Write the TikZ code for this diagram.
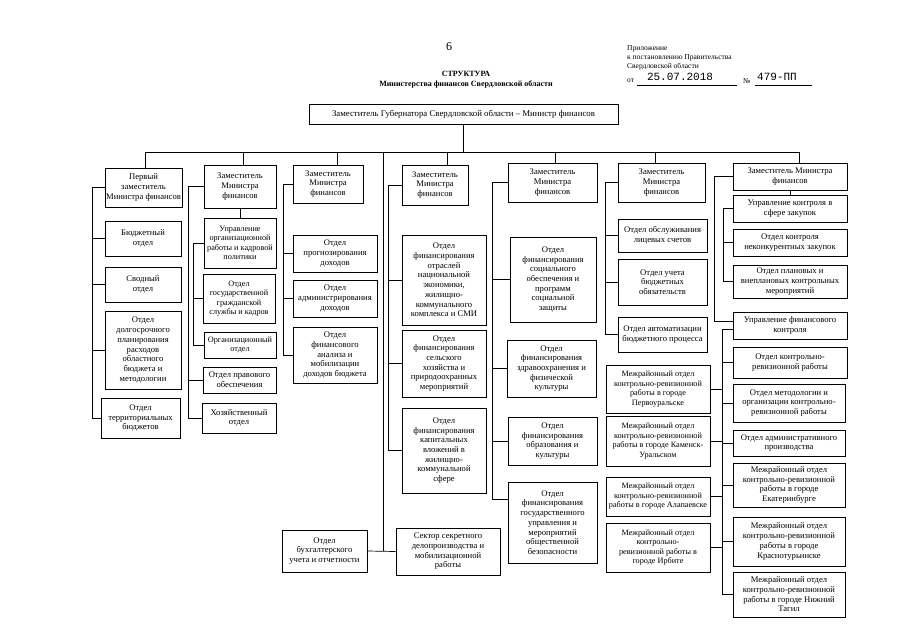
\documentclass[tikz,border=0pt]{standalone}
\usepackage{fontspec}
\setmainfont{Liberation Serif}
\newfontfamily\monofnt{Liberation Mono}
\tikzset{
  bx/.style={draw,line width=0.9pt,inner sep=0pt,align=center,font=\fontsize{8.6}{9.7}\selectfont},
  sm/.style={font=\fontsize{8.2}{9.5}\selectfont},
  ln/.style={line width=0.7pt},
  hdr/.style={inner sep=0pt,font=\fontsize{7.5}{9}\selectfont,anchor=west},
}
\newcommand\bx[7][]{\node[bx,#1,minimum width={(#5-#3)*1pt},minimum height={(#6-#4)*1pt}] (#2) at ({(#3+#5)/2},{(#4+#6)/2}) {#7};}
\begin{document}
\begin{tikzpicture}[x=1pt,y=-1pt]
\fill[white] (0,0) rectangle (905,640);
\useasboundingbox (0,0) rectangle (905,640);
% header
\node[inner sep=0pt,font=\fontsize{12}{14}\selectfont] (num) at (449,47) {6};
\node[inner sep=0pt,font=\fontsize{8}{9}\selectfont\bfseries] (tit1) at (466,74) {СТРУКТУРА};
\node[inner sep=0pt,font=\fontsize{8}{9}\selectfont\bfseries] (tit2) at (466,84) {Министерства финансов Свердловской области};
\node[hdr] (h1) at (627,49) {Приложение};
\node[hdr] (h2) at (627,58) {к постановлению Правительства};
\node[hdr] (h3) at (627,67) {Свердловской области};
\node[hdr] (h4) at (627,81) {от};
\node[hdr] (h5) at (743,81) {№};
\draw[line width=0.6pt] (637,85) -- (737,85);
\draw[line width=0.6pt] (755,85) -- (812,85);
\node[inner sep=0pt,font=\fontsize{11}{12}\selectfont\monofnt] (date) at (680,77) {25.07.2018};
\node[inner sep=0pt,font=\fontsize{11}{12}\selectfont\monofnt] (numb) at (777,77) {479-ПП};
% top box
\node[draw,line width=0.9pt,inner sep=0pt,minimum width=309pt,minimum height=20pt,font=\fontsize{8.8}{10}\selectfont] (top) at (463.5,114.5) {Заместитель Губернатора Свердловской области – Министр финансов};
% column 1
\bx{p1}{105}{168}{182}{207}{Первый\\заместитель\\Министра финансов}
\bx{c1a}{105}{221}{181}{256}{Бюджетный\\отдел}
\bx{c1b}{105}{267}{181}{302}{Сводный\\отдел}
\bx{c1c}{105}{311}{181}{389}{Отдел\\долгосрочного\\планирования\\расходов\\областного\\бюджета и\\методологии}
\bx{c1d}{101}{398}{180}{438}{Отдел\\территориальных\\бюджетов}
% column 2
\bx{p2}{204}{165}{276}{208}{Заместитель\\Министра\\финансов}
\bx[sm]{c2u}{204}{218}{276}{268}{Управление\\организационной\\работы и кадровой\\политики}
\bx[sm]{c2a}{203}{274}{275}{323}{Отдел\\государственной\\гражданской\\службы и кадров}
\bx[sm]{c2b}{204}{332}{276}{358}{Организационный\\отдел}
\bx{c2c}{203}{367}{276}{393}{Отдел правового\\обеспечения}
\bx{c2d}{202}{403}{276}{433}{Хозяйственный\\отдел}
% column 3
\bx{p3}{293}{165}{363}{203}{Заместитель\\Министра\\финансов}
\bx{c3a}{293}{235}{377}{272}{Отдел\\прогнозирования\\доходов}
\bx{c3b}{293}{280}{377}{317}{Отдел\\администрирования\\доходов}
\bx{c3c}{293}{327}{377}{383}{Отдел\\финансового\\анализа и\\мобилизации\\доходов бюджета}
% column 4
\bx{p4}{402}{165}{468}{205}{Заместитель\\Министра\\финансов}
\bx{c4a}{402}{235}{486}{325}{Отдел\\финансирования\\отраслей\\национальной\\экономики,\\жилищно-\\коммунального\\комплекса и СМИ}
\bx{c4b}{402}{330}{486}{397}{Отдел\\финансирования\\сельского\\хозяйства и\\природоохранных\\мероприятий}
\bx{c4c}{402}{408}{486}{493}{Отдел\\финансирования\\капитальных\\вложений в\\жилищно-\\коммунальной\\сфере}
% column 5
\bx{p5}{508}{163}{597}{202}{Заместитель\\Министра\\финансов}
\bx{c5a}{510}{237}{596}{322}{Отдел\\финансирования\\социального\\обеспечения и\\программ\\социальной\\защиты}
\bx{c5b}{507}{340}{596}{397}{Отдел\\финансирования\\здравоохранения и\\физической\\культуры}
\bx{c5c}{508}{417}{597}{465}{Отдел\\финансирования\\образования и\\культуры}
\bx{c5d}{508}{482}{597}{563}{Отдел\\финансирования\\государственного\\управления и\\мероприятий\\общественной\\безопасности}
% column 6
\bx{p6}{618}{163}{705}{202}{Заместитель\\Министра\\финансов}
\bx{c6a}{618}{219}{707}{252}{Отдел обслуживания\\лицевых счетов}
\bx{c6b}{618}{259}{707}{305}{Отдел учета\\бюджетных\\обязательств}
\bx{c6c}{618}{317}{707}{352}{Отдел автоматизации\\бюджетного процесса}
\bx[sm]{m1}{606}{365}{710}{413}{Межрайонный отдел\\контрольно-ревизионной\\работы в городе\\Первоуральске}
\bx[sm]{m2}{606}{416}{710}{466}{Межрайонный отдел\\контрольно-ревизионной\\работы в городе Каменск-\\Уральском}
\bx[sm]{m3}{606}{477}{710}{516}{Межрайонный отдел\\контрольно-ревизионной\\работы в городе Алапаевске}
\bx[sm]{m4}{606}{523}{710}{572}{Межрайонный отдел\\контрольно-\\ревизионной работы в\\городе Ирбите}
% column 7
\bx{p7}{733}{163}{847}{190}{Заместитель Министра\\финансов}
\bx{c7u}{733}{195}{847}{222}{Управление контроля в\\сфере закупок}
\bx{c7a}{733}{229}{847}{256}{Отдел контроля\\неконкурентных закупок}
\bx{c7b}{733}{265}{847}{298}{Отдел плановых и\\внеплановых контрольных\\мероприятий}
\bx{c7f}{733}{312}{847}{339}{Управление финансового\\контроля}
\bx{c7c}{733}{347}{847}{378}{Отдел контрольно-\\ревизионной работы}
\bx{c7d}{733}{384}{845}{422}{Отдел методологии и\\организации контрольно-\\ревизионной работы}
\bx{c7e}{733}{430}{845}{456}{Отдел административного\\производства}
\bx{c7g}{733}{463}{845}{507}{Межрайонный отдел\\контрольно-ревизионной\\работы в городе\\Екатеринбурге}
\bx{c7h}{733}{517}{845}{566}{Межрайонный отдел\\контрольно-ревизионной\\работы в городе\\Краснотурьинске}
\bx{c7t}{733}{572}{845}{617}{Межрайонный отдел\\контрольно-ревизионной\\работы в городе Нижний\\Тагил}
% bottom
\bx{buh}{282}{530}{367}{572}{Отдел\\бухгалтерского\\учета и отчетности}
\bx{sek}{396}{528}{500}{575}{Сектор секретного\\делопроизводства и\\мобилизационной\\работы}
% bus
\coordinate (d1) at (145,152);
\coordinate (d2) at (243,152);
\coordinate (d3) at (337,152);
\coordinate (d8) at (383,152);
\coordinate (d4) at (447,152);
\coordinate (d5) at (555,152);
\coordinate (d6) at (655,152);
\coordinate (d7) at (799,152);
\draw[ln] (d1) -- (d7);
\draw[ln] (top.south) -- (top.south |- d1);
\draw[ln] (d1) -- (d1 |- p1.north);
\draw[ln] (d2) -- (d2 |- p2.north);
\draw[ln] (d3) -- (d3 |- p3.north);
\draw[ln] (d4) -- (d4 |- p4.north);
\draw[ln] (d5) -- (d5 |- p5.north);
\draw[ln] (d6) -- (d6 |- p6.north);
\draw[ln] (d7) -- (d7 |- p7.north);
\draw[ln] (d8) -- (d8 |- buh.east);
\draw[ln] (buh.east) -- (sek.west);
% spines
\coordinate (s1) at (92,0);
\coordinate (s2o) at (188,0);
\coordinate (s2i) at (193,0);
\coordinate (s3) at (283,0);
\coordinate (s4) at (388,0);
\coordinate (s5) at (492,0);
\coordinate (s6) at (605,0);
\coordinate (s7) at (723,0);
\coordinate (sA) at (714,0);
\coordinate (sB) at (722,0);
\coordinate (c5dj) at ([yshift=-18pt]c5d.north west);
\coordinate (c7fj) at ([yshift=-4pt]c7f.west);
% col1
\draw[ln] (p1.west) -| (s1 |- c1d.west) -- (c1d.west);
\foreach \n in {c1a,c1b,c1c} \draw[ln] (s1 |- \n.west) -- (\n.west);
% col2
\draw[ln] (p2.south) -- (p2.south |- c2u.north);
\draw[ln] (p2.west) -| (s2o |- c2d.west) -- (c2d.west);
\draw[ln] (s2o |- c2c.west) -- (c2c.west);
\draw[ln] (c2u.west) -| (s2i |- c2b.west) -- (c2b.west);
\draw[ln] (s2i |- c2a.west) -- (c2a.west);
% col3
\draw[ln] (p3.west) -| (s3 |- c3c.west) -- (c3c.west);
\foreach \n in {c3a,c3b} \draw[ln] (s3 |- \n.west) -- (\n.west);
% col4
\draw[ln] (p4.west) -| (s4 |- c4c.west) -- (c4c.west);
\foreach \n in {c4a,c4b} \draw[ln] (s4 |- \n.west) -- (\n.west);
% col5
\draw[ln] (p5.west) -| (s5 |- c5dj) -- (c5dj);
\foreach \n in {c5a,c5b,c5c} \draw[ln] (s5 |- \n.west) -- (\n.west);
% col6
\draw[ln] (p6.west) -| (s6 |- c6c.west) -- (c6c.west);
\foreach \n in {c6a,c6b} \draw[ln] (s6 |- \n.west) -- (\n.west);
% col7
\draw[ln] (p7.south) -- (p7.south |- c7u.north);
\draw[ln] (c7u.west) -| (s7 |- c7b.west) -- (c7b.west);
\draw[ln] (s7 |- c7a.west) -- (c7a.west);
\draw[ln] (p7.west) -| ([yshift=4pt]sA |- c7f.west) -- ([yshift=4pt]c7f.west);
\draw[ln] (c7fj) -| (sB |- c7t.west) -- (c7t.west);
\foreach \n in {c7c,c7d,c7e,c7g,c7h} \draw[ln] (sB |- \n.west) -- (\n.west);
\foreach \n in {m1,m2,m3,m4} \draw[ln] (sB |- \n.east) -- (\n.east);
\end{tikzpicture}
\end{document}
